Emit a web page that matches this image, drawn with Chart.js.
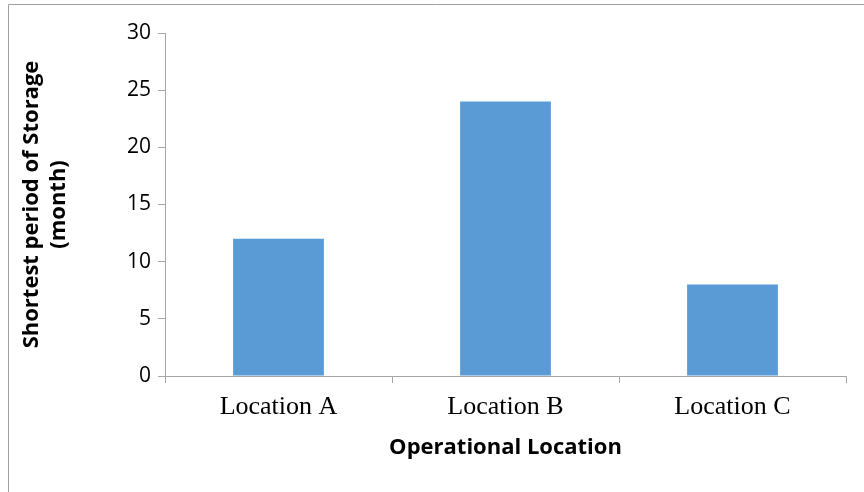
<!DOCTYPE html>
<html>
<head>
<meta charset="utf-8">
<script src="https://cdn.jsdelivr.net/npm/chart.js@4/dist/chart.umd.min.js"></script>
<style>
  html, body { margin: 0; padding: 0; background: #ffffff; }
  #wrap { width: 864px; height: 492px; position: relative; }
</style>
</head>
<body>
<div id="wrap"><canvas id="chart"></canvas></div>
<script>
// Storage period per operational location
const locations = ['Location A', 'Location B', 'Location C'];
const storageMonths = [12, 24, 8];
const yTitleLines = ['Shortest period of Storage', '(month)'];
const xTitle = 'Operational Location';

const axisGray = '#a6a6a6';

// Thin gray frame along the top and left edges of the figure
const framePlugin = {
  id: 'frame',
  beforeDraw(chart) {
    const ctx = chart.ctx;
    ctx.save();
    ctx.fillStyle = '#ffffff';
    ctx.fillRect(0, 0, chart.width, chart.height);
    ctx.strokeStyle = '#a0a0a0';
    ctx.lineWidth = 1;
    ctx.beginPath();
    ctx.moveTo(8.5, chart.height);
    ctx.lineTo(8.5, 4.5);
    ctx.lineTo(chart.width, 4.5);
    ctx.stroke();
    ctx.restore();
  }
};

new Chart(document.getElementById('chart'), {
  type: 'bar',
  data: {
    labels: locations,
    datasets: [{
      data: storageMonths,
      backgroundColor: '#5b9bd5',
      borderWidth: 0,
      categoryPercentage: 1.0,
      barPercentage: 0.4
    }]
  },
  options: {
    responsive: true,
    maintainAspectRatio: false,
    animation: false,
    layout: { padding: { left: 0, right: 18, top: 33, bottom: 0 } },
    plugins: {
      legend: { display: false },
      tooltip: { enabled: false }
    },
    scales: {
      x: {
        afterFit(scale) { scale.height = 116; },
        border: { color: axisGray, width: 1 },
        grid: {
          offset: true,
          drawOnChartArea: false,
          drawTicks: true,
          tickLength: 7,
          color: axisGray
        },
        ticks: {
          color: '#000000',
          padding: 9,
          font: { family: '"Liberation Serif", "Times New Roman", serif', size: 26 }
        },
        title: {
          display: true,
          text: xTitle,
          color: '#000000',
          padding: { top: 0, bottom: 31 },
          font: { family: '"Open Sans", sans-serif', size: 22, weight: 'bold' }
        }
      },
      y: {
        min: 0,
        max: 30,
        afterFit(scale) { scale.width = 165; },
        border: { color: axisGray, width: 1 },
        grid: {
          drawOnChartArea: false,
          drawTicks: true,
          tickLength: 7,
          color: axisGray
        },
        ticks: {
          stepSize: 5,
          color: '#000000',
          padding: 7,
          font: { family: '"Open Sans", sans-serif', size: 21 }
        },
        title: {
          display: true,
          text: yTitleLines,
          color: '#000000',
          padding: { top: 19, bottom: 0 },
          font: { family: '"Open Sans", sans-serif', size: 22, weight: 'bold', lineHeight: 1.2 }
        }
      }
    }
  },
  plugins: [framePlugin]
});
</script>
</body>
</html>
